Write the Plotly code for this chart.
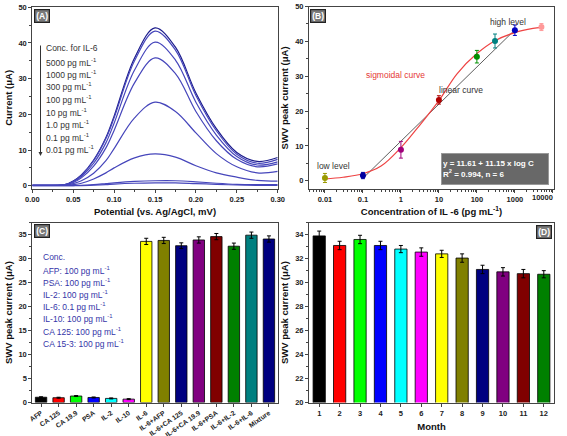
import plotly.graph_objects as go

# ---------------- Panel A data (SWV curves) ----------------
potential = [0, 0.02, 0.04, 0.05, 0.06, 0.075, 0.09, 0.1, 0.125, 0.15, 0.175, 0.2, 0.225, 0.25, 0.275, 0.3]
cur_5000 = [0.1, 0.1, 0.3, 1.3, 3.0, 7.2, 13.5, 19.5, 35.8, 44.2, 38.8, 26.0, 16.0, 9.3, 6.8, 7.9]
cur_1000 = [0.1, 0.1, 0.3, 1.2, 2.9, 7.0, 13.2, 19.0, 35.0, 43.3, 38.0, 25.3, 15.4, 8.8, 6.3, 7.4]
cur_300 = [0.1, 0.1, 0.3, 1.1, 2.6, 6.3, 12.0, 17.5, 32.4, 40.2, 35.2, 23.4, 14.2, 8.2, 5.8, 6.7]
cur_100 = [0.1, 0.1, 0.2, 0.9, 2.2, 5.5, 10.6, 15.5, 28.8, 35.8, 31.4, 20.8, 12.6, 7.4, 5.3, 6.1]
cur_10 = [0.1, 0.1, 0.2, 0.6, 1.4, 3.5, 7.0, 10.4, 19.0, 23.4, 20.8, 14.8, 9.0, 5.3, 3.6, 4.0]
cur_1 = [0.1, 0.1, 0.1, 0.3, 0.7, 1.9, 3.6, 5.0, 7.8, 8.9, 8.0, 5.6, 3.6, 2.4, 1.5, 1.3]
cur_01 = [0.0, 0.0, 0.0, 0.05, 0.1, 0.3, 0.6, 0.8, 1.2, 1.4, 1.4, 1.1, 0.7, 0.4, 0.3, 0.3]
cur_001 = [0.0, 0.0, 0.0, 0.0, 0.05, 0.15, 0.3, 0.45, 0.7, 0.8, 0.8, 0.6, 0.4, 0.2, 0.1, 0.1]
curves_A = [cur_5000, cur_1000, cur_300, cur_100, cur_10, cur_1, cur_01, cur_001]
legend_A = ["Conc. for IL-6", "5000 pg mL<sup>-1</sup>", "1000 pg mL<sup>-1</sup>", "300 pg mL<sup>-1</sup>",
            "100 pg mL<sup>-1</sup>", "10 pg mL<sup>-1</sup>", "1.0 pg mL<sup>-1</sup>",
            "0.1 pg mL<sup>-1</sup>", "0.01 pg mL<sup>-1</sup>"]

# ---------------- Panel B data ----------------
conc_B = [0.01, 0.1, 1, 10, 100, 300, 1000, 5000]
peak_B = [0.8, 1.5, 8.9, 23.2, 35.6, 40.1, 43.2, 44.1]
err_B = [1.3, 0.9, 2.4, 1.2, 1.8, 2.0, 1.5, 1.0]
colors_B = ["#9a9a00", "#0000a0", "#a0007a", "#b00000", "#009000", "#008080", "#0000c0", "#ff9999"]
sig_x = [0.01, 0.03, 0.1, 0.3, 1, 3, 10, 30, 100, 300, 1000, 3000, 5000]
sig_y = [0.5, 1.0, 2.0, 4.2, 9.5, 15.7, 23.0, 30.7, 36.5, 40.2, 42.5, 43.7, 44.0]
lin_x = [0.1, 1000]
lin_y = [0.7, 43.3]
ticks_B = [0.01, 0.1, 1, 10, 100, 1000, 10000]
ticklabels_B = ["0.01", "0.1", "1", "10", "100", "1000", ""]
last_tick_B = "10000"

# ---------------- Panel C data ----------------
cats_C = ["AFP", "CA 125", "CA 19.9", "PSA", "IL-2", "IL-10", "IL-6", "IL-6+AFP", "IL-6+CA 125",
          "IL-6+CA 19.9", "IL-6+PSA", "IL-6+IL-2", "IL-6+IL-6", "Mixture"]
vals_C = [1.1, 1.0, 1.35, 1.05, 0.85, 0.7, 33.6, 33.8, 32.7, 33.9, 34.6, 32.6, 34.9, 34.1]
err_C = [0.1, 0.1, 0.1, 0.1, 0.1, 0.1, 0.65, 0.65, 0.6, 0.65, 0.65, 0.65, 0.65, 0.65]
colors_C = ["#000000", "#ff0000", "#00ff00", "#0000ff", "#00ffff", "#ff00ff", "#ffff00", "#808000",
            "#000080", "#800080", "#800000", "#008000", "#008080", "#000080"]
notes_C = ["Conc.", "AFP: 100 pg mL<sup>-1</sup>", "PSA: 100 pg mL<sup>-1</sup>", "IL-2: 100 pg mL<sup>-1</sup>",
           "IL-6: 0.1 pg mL<sup>-1</sup>", "IL-10: 100 pg mL<sup>-1</sup>", "CA 125: 100 pg mL<sup>-1</sup>",
           "CA 15-3: 100 pg mL<sup>-1</sup>"]

# ---------------- Panel D data ----------------
months_D = [1, 2, 3, 4, 5, 6, 7, 8, 9, 10, 11, 12]
vals_D = [33.9, 33.1, 33.6, 33.1, 32.8, 32.55, 32.4, 32.05, 31.1, 30.9, 30.75, 30.7]
err_D = [0.4, 0.35, 0.35, 0.35, 0.3, 0.35, 0.3, 0.35, 0.35, 0.35, 0.35, 0.3]
colors_D = ["#000000", "#ff0000", "#00ff00", "#0000ff", "#00ffff", "#ff00ff", "#ffff00", "#808000",
            "#000080", "#800080", "#800000", "#008000"]

W, H = 567, 436
FONT = "Liberation Sans"
AX = "#444444"


def px(x):
    return x / W


def py(y):
    return 1 - y / H


fig = go.Figure()

# Panel A
for i, c in enumerate(curves_A):
    fig.add_trace(go.Scatter(x=potential, y=c, mode="lines", line_shape="spline",
                             line=dict(color="#1c1c8c" if i == 0 else "#4646bb", width=1.2),
                             xaxis="x", yaxis="y", showlegend=False, hoverinfo="skip"))

# Panel B
fig.add_trace(go.Scatter(x=lin_x, y=lin_y, mode="lines", line=dict(color="#333333", width=0.8),
                         xaxis="x2", yaxis="y2", showlegend=False))
fig.add_trace(go.Scatter(x=sig_x, y=sig_y, mode="lines", line_shape="spline",
                         line=dict(color="#ee4444", width=1.2), xaxis="x2", yaxis="y2", showlegend=False))
for xv, yv, ev, col in zip(conc_B, peak_B, err_B, colors_B):
    fig.add_trace(go.Scatter(x=[xv], y=[yv], mode="markers",
                             marker=dict(color=col, size=6, symbol="circle"),
                             error_y=dict(type="data", array=[ev], color=col, thickness=1, width=2),
                             xaxis="x2", yaxis="y2", showlegend=False))

# Panel C
fig.add_trace(go.Bar(x=cats_C, y=vals_C, width=0.65,
                     marker=dict(color=colors_C, line=dict(color="#000000", width=0.8)),
                     error_y=dict(type="data", array=err_C, color="#000000", thickness=1, width=2),
                     xaxis="x3", yaxis="y3", showlegend=False))

# Panel D
fig.add_trace(go.Bar(x=months_D, y=vals_D, width=0.6,
                     marker=dict(color=colors_D, line=dict(color="#000000", width=0.8)),
                     error_y=dict(type="data", array=err_D, color="#000000", thickness=1, width=2),
                     xaxis="x4", yaxis="y4", showlegend=False))

tickfont = dict(family=FONT, size=7.5, color="#222222", weight="bold")
titlefont = dict(family=FONT, size=9.5, color="#111111", weight="bold")
common = dict(showline=True, linecolor=AX, linewidth=1, mirror=True, ticks="outside", ticklen=3,
              tickcolor=AX, showgrid=False, zeroline=False, automargin=False)

dom_top = [py(189.3), py(6.5)]
dom_bot = [py(402.5), py(222.7)]
dom_left = [px(32.3), px(277.7)]
dom_right = [px(309), px(554)]

fig.update_layout(
    width=W, height=H, margin=dict(l=0, r=0, t=0, b=0),
    paper_bgcolor="white", plot_bgcolor="white",
    font=dict(family=FONT),
    xaxis=dict(domain=dom_left, range=[0, 0.3], dtick=0.05, tickformat=".2f", tickfont=tickfont,
               minor=dict(ticks="outside", ticklen=2, dtick=0.025, tickcolor=AX),
               title=dict(text="Potential (vs. Ag/AgCl, mV)", font=titlefont, standoff=5), anchor="y", **common),
    yaxis=dict(domain=dom_top, range=[-1.0, 50.2], dtick=10, tickfont=tickfont,
               minor=dict(ticks="outside", ticklen=2, dtick=5, tickcolor=AX),
               title=dict(text="Current (μA)", font=titlefont, standoff=4), anchor="x", **common),
    xaxis2=dict(domain=dom_right, type="log", range=[-2.42, 4.03], tickmode="array",
                tickvals=ticks_B, ticktext=ticklabels_B, tickfont=tickfont,
                minor=dict(ticks="outside", ticklen=2, dtick="D1", tickcolor=AX),
                title=dict(text="Concentration of IL -6 (pg mL<sup>-1</sup>)", font=titlefont, standoff=5),
                anchor="y2", **common),
    yaxis2=dict(domain=dom_top, range=[-2.45, 50.0], dtick=10, tickfont=tickfont,
                minor=dict(ticks="outside", ticklen=2, dtick=5, tickcolor=AX),
                title=dict(text="SWV peak current (μA)", font=titlefont, standoff=4), anchor="x2", **common),
    xaxis3=dict(domain=dom_left, range=[-0.5, 13.5], tickangle=-35,
                tickfont=dict(family=FONT, size=6.8, color="#222222", weight="bold"),
                anchor="y3", **common),
    yaxis3=dict(domain=dom_bot, range=[0, 37.5], dtick=5, tickfont=tickfont,
                minor=dict(ticks="outside", ticklen=2, dtick=2.5, tickcolor=AX),
                title=dict(text="SWV peak current (μA)", font=titlefont, standoff=4), anchor="x3", **common),
    xaxis4=dict(domain=dom_right, range=[0.5, 12.5], dtick=1, tickfont=tickfont,
                title=dict(text="Month", font=titlefont, standoff=6), anchor="y4", **common),
    yaxis4=dict(domain=dom_bot, range=[20, 35], dtick=2, tickfont=tickfont,
                minor=dict(ticks="outside", ticklen=2, dtick=1, tickcolor=AX),
                title=dict(text="SWV peak current (μA)", font=titlefont, standoff=4), anchor="x4", **common),
)

ann = []


def label_box(text, x0, y0):
    ann.append(dict(text="<b>%s</b>" % text, x=px(x0), y=py(y0), xref="paper", yref="paper",
                    xanchor="left", yanchor="top", showarrow=False,
                    font=dict(family=FONT, size=8.5, color="white"),
                    bgcolor="#7a7a7a", bordercolor="#222222", borderwidth=1.2, borderpad=1))


label_box("(A)", 33.5, 9)
label_box("(B)", 310, 9)
label_box("(C)", 33.5, 224)
label_box("(D)", 536, 225)

# last log-axis tick label (kept inside the page edge)
ann.append(dict(text=last_tick_B, x=px(555), y=py(197.5), xref="paper", yref="paper",
                xanchor="right", yanchor="middle", showarrow=False, font=tickfont))

# Panel A concentration list
rows_A = [48.3, 62.3, 74.5, 87, 99.5, 112, 124.5, 137, 149.5]
for t, yy in zip(legend_A, rows_A):
    ann.append(dict(text=t, x=px(43.5), y=py(yy), xref="paper", yref="paper", xanchor="left",
                    yanchor="middle", showarrow=False, font=dict(family=FONT, size=8.5, color="#333333")))
ann.append(dict(text="", x=px(40.5), y=py(156), xref="paper", yref="paper", showarrow=True,
                ax=0, ay=-112, arrowhead=2, arrowsize=0.8, arrowwidth=1, arrowcolor="#333333"))

# Panel B labels
ann.append(dict(text="high level", x=px(528), y=py(15), xref="paper", yref="paper", showarrow=False,
                font=dict(family=FONT, size=8.5, color="#333333")))
ann.append(dict(text="sigmoidal curve", x=px(427), y=py(68), xref="paper", yref="paper", showarrow=False,
                font=dict(family=FONT, size=8.5, color="#e53935")))
ann.append(dict(text="linear curve", x=px(485), y=py(83), xref="paper", yref="paper", showarrow=False,
                font=dict(family=FONT, size=8.5, color="#333333")))
ann.append(dict(text="low level", x=px(333), y=py(166), xref="paper", yref="paper", showarrow=False,
                font=dict(family=FONT, size=8.5, color="#333333")))
ann.append(dict(text="<b>y = 11.61 + 11.15 x log C<br>R<sup>2</sup> = 0.994, n = 6</b>",
                x=px(441), y=py(153), xref="paper", yref="paper", xanchor="left", yanchor="top",
                align="left", showarrow=False, width=104, height=28,
                font=dict(family=FONT, size=8, color="white"),
                bgcolor="#686868", bordercolor="#999999", borderwidth=1, borderpad=1))

# Panel C notes
rows_C = [257, 270.5, 282.7, 294.7, 306.7, 318.7, 331, 343.5]
for t, yy in zip(notes_C, rows_C):
    ann.append(dict(text=t, x=px(41), y=py(yy), xref="paper", yref="paper", xanchor="left",
                    yanchor="middle", showarrow=False, font=dict(family=FONT, size=8.5, color="#3535a8")))

fig.update_layout(annotations=ann)
fig.write_html("out.html", config={"displayModeBar": False},
               post_script="document.body.style.margin='0px';document.body.style.overflow='hidden';")
